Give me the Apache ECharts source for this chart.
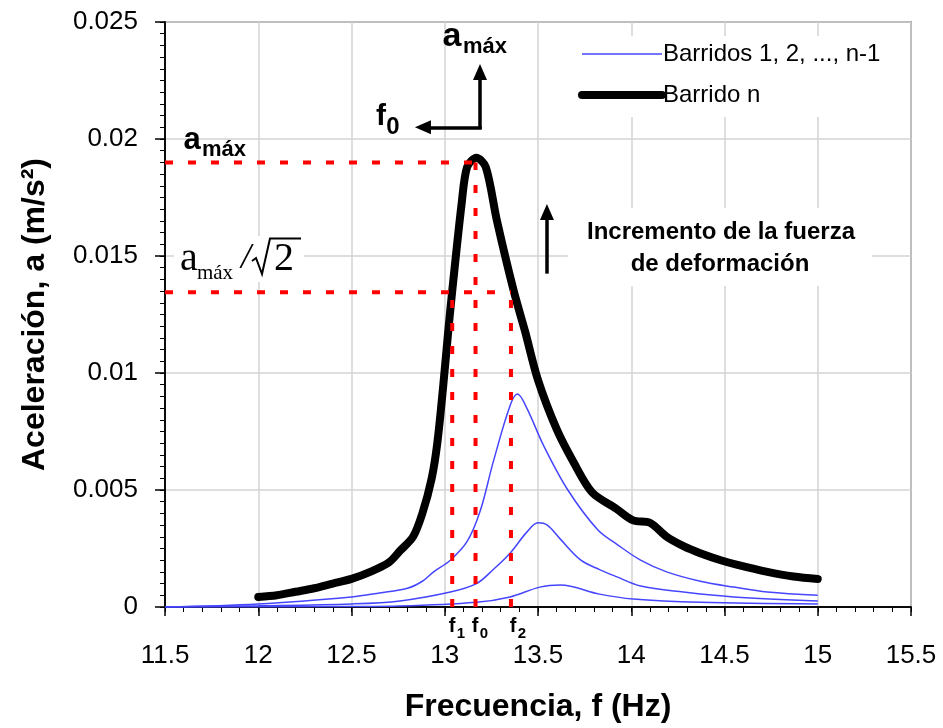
<!DOCTYPE html>
<html>
<head>
<meta charset="utf-8">
<script src="https://cdn.jsdelivr.net/npm/echarts@6/dist/echarts.min.js"></script>
<style>
  html, body { margin: 0; padding: 0; background: #fff; }
  #chart { width: 943px; height: 728px; }
</style>
</head>
<body>
<div id="chart"></div>
<script>
// Barrido n (curva gruesa negra)
const fN = [12.0, 12.1, 12.2, 12.3, 12.4, 12.5, 12.6, 12.7, 12.76, 12.83, 12.88, 12.93, 12.96, 12.99,
            13.02, 13.04, 13.09, 13.12, 13.17, 13.22, 13.28, 13.37, 13.43, 13.5, 13.6, 13.69, 13.79,
            13.92, 14.01, 14.1, 14.19, 14.28, 14.37, 14.48, 14.57, 14.73, 14.87, 15.0];
const aN = [0.00043, 0.0005, 0.00065, 0.0008, 0.001, 0.0012, 0.0015, 0.0019, 0.0024, 0.003, 0.004, 0.0055, 0.007, 0.0093,
            0.0119, 0.0135, 0.0172, 0.0188, 0.0192, 0.0188, 0.0165, 0.0135, 0.0118, 0.0097, 0.0076, 0.0062, 0.0049,
            0.0042, 0.0037, 0.0036, 0.003, 0.0026, 0.0023, 0.002, 0.0018, 0.0015, 0.0013, 0.0012];

// Barridos 1, 2, ..., n-1 (curvas azules)
const f1b = [11.5, 12.0, 12.5, 12.65, 12.8, 12.88, 12.94, 13.03, 13.12, 13.19, 13.26, 13.35, 13.39, 13.44, 13.53, 13.66,
             13.82, 13.92, 14.05, 14.19, 14.37, 14.55, 14.73, 15.0];
const a1b = [0, 0.00013, 0.00043, 0.0006, 0.0008, 0.0011, 0.0015, 0.002, 0.0028, 0.0041, 0.0062, 0.0086, 0.0091, 0.0085, 0.0069, 0.005,
             0.0033, 0.0027, 0.002, 0.0015, 0.0011, 0.00085, 0.00064, 0.0005];
const f2b = [11.5, 12.0, 12.5, 12.76, 13.03, 13.17, 13.26, 13.35, 13.44, 13.5, 13.55, 13.62, 13.73, 13.83, 13.92,
             14.05, 14.28, 14.55, 15.0];
const a2b = [0, 0.00005, 0.00013, 0.00026, 0.00064, 0.001, 0.0016, 0.0023, 0.0032, 0.0036, 0.0035, 0.0029, 0.002, 0.0016, 0.0013,
             0.0009, 0.00064, 0.00043, 0.00026];
const f3b = [11.5, 12.5, 12.76, 13.17, 13.35, 13.51, 13.62, 13.83, 14.01, 14.37, 15.0];
const a3b = [0, 0.00002, 0.00004, 0.0002, 0.00043, 0.00085, 0.00094, 0.00055, 0.00034, 0.0002, 0.00013];

// frecuencias y aceleraciones de referencia (lineas rojas)
const fRef = { f1: 13.04, f0: 13.165, f2: 13.355 };
const aMax = 0.019;
const aMaxR2 = 0.01345;

// flechas de anotacion [x1, y1, x2, y2]
const arrows = [
  [13.189, 0.0205, 13.189, 0.02286],
  [13.189, 0.0205, 12.883, 0.0205],
  [13.548, 0.01432, 13.548, 0.01688]
];

const xTicks = { min: 11.5, max: 15.5, step: 0.5, minorStep: 0.1 };
const yTicks = { min: 0, max: 0.025, step: 0.005, minorStep: 0.0005 };

const BLUE_NAME = 'Barridos 1, 2, ..., n-1';
const BLACK_NAME = 'Barrido n';
const FONT = 'Liberation Sans, Arial, sans-serif';
const SERIF = 'Liberation Serif, Times New Roman, serif';

function zip(xs, ys) { return xs.map((x, i) => [x, ys[i]]); }

const blue = '#4646ff';
function blueSeries(xs, ys) {
  return {
    name: BLUE_NAME, type: 'line', data: zip(xs, ys), smooth: 0.35,
    symbol: 'none', lineStyle: { color: blue, width: 1.5 }, itemStyle: { color: blue }, z: 3
  };
}
function redDash(data) {
  return {
    type: 'line', data: data, symbol: 'none', silent: true, z: 6,
    lineStyle: { color: '#ff0000', width: 4, type: [8, 15] }
  };
}

let chart = echarts.init(document.getElementById('chart'));
let option = {
  animation: false,
  grid: { left: 165, right: 32, top: 22, bottom: 120, show: true, borderColor: '#555', borderWidth: 1.5 },
  legend: {
    data: [BLUE_NAME, BLACK_NAME],
    orient: 'vertical', left: 566, top: 36,
    itemWidth: 80, itemHeight: 14, itemGap: 17,
    backgroundColor: '#fff', padding: [6, 16, 10, 12],
    textStyle: { fontFamily: FONT, fontSize: 24, color: '#000', padding: [0, 0, 0, -4] },
    itemStyle: { opacity: 0 },
    lineStyle: { width: 'inherit' },
    selectedMode: false
  },
  xAxis: [
    {
      type: 'value', min: xTicks.min, max: xTicks.max, interval: xTicks.step, position: 'bottom',
      name: 'Frecuencia, f (Hz)', nameLocation: 'middle', nameGap: 84,
      nameTextStyle: { fontFamily: FONT, fontSize: 32, fontWeight: 'bold', color: '#000' },
      axisLine: { show: true, onZero: false, lineStyle: { color: '#000', width: 1.5 } },
      axisTick: { show: true, inside: false, length: 9, lineStyle: { color: '#000', width: 1.5 } },
      axisLabel: { fontFamily: FONT, fontSize: 26, color: '#000', margin: 36 },
      splitLine: { show: true, lineStyle: { color: '#d3d3d3', width: 1.5 } }
    },
    {
      // marcas secundarias cada 0.1 Hz
      type: 'value', min: xTicks.min, max: xTicks.max, interval: xTicks.minorStep, position: 'bottom',
      axisLine: { show: true, onZero: false, lineStyle: { color: '#000', width: 1.5 } },
      axisTick: { show: true, inside: false, length: 5, lineStyle: { color: '#000', width: 1 } },
      axisLabel: { show: false }, splitLine: { show: false }
    }
  ],
  yAxis: [
    {
      type: 'value', min: yTicks.min, max: yTicks.max, interval: yTicks.step, position: 'left',
      name: 'Aceleración, a (m/s²)', nameLocation: 'middle', nameGap: 114,
      nameTextStyle: { fontFamily: FONT, fontSize: 32, fontWeight: 'bold', color: '#000' },
      axisLine: { show: true, onZero: false, lineStyle: { color: '#000', width: 1.5 } },
      axisTick: { show: true, inside: false, length: 10, lineStyle: { color: '#000', width: 1.5 } },
      axisLabel: { fontFamily: FONT, fontSize: 26, color: '#000', margin: 27 },
      splitLine: { show: true, lineStyle: { color: '#d3d3d3', width: 1.5 } }
    },
    {
      // marcas secundarias cada 0.0005
      type: 'value', min: yTicks.min, max: yTicks.max, interval: yTicks.minorStep, position: 'left',
      axisLine: { show: true, onZero: false, lineStyle: { color: '#000', width: 1.5 } },
      axisTick: { show: true, inside: false, length: 5, lineStyle: { color: '#000', width: 1 } },
      axisLabel: { show: false }, splitLine: { show: false }
    }
  ],
  series: [
    blueSeries(f1b, a1b),
    blueSeries(f2b, a2b),
    blueSeries(f3b, a3b),
    {
      name: BLACK_NAME, type: 'line', data: zip(fN, aN), smooth: 0.3, symbol: 'none', z: 4,
      lineStyle: { color: '#000', width: 8, cap: 'round', join: 'round' }, itemStyle: { color: '#000' }
    },
    redDash([[xTicks.min, aMax], [fRef.f0, aMax]]),
    redDash([[fRef.f0, 0], [fRef.f0, aMax]]),
    redDash([[xTicks.min, aMaxR2], [fRef.f2, aMaxR2]]),
    redDash([[fRef.f1, 0], [fRef.f1, aMaxR2]]),
    redDash([[fRef.f2, 0], [fRef.f2, aMaxR2]]),
    {
      type: 'line', data: [], silent: true, z: 7,
      markLine: {
        silent: true, animation: false,
        symbol: ['none', 'triangle'], symbolSize: [14, 16],
        label: { show: false },
        lineStyle: { color: '#000', width: 3.5, type: 'solid', cap: 'square' },
        emphasis: { disabled: true },
        data: arrows.map(a => [{ coord: [a[0], a[1]] }, { coord: [a[2], a[3]] }])
      }
    }
  ]
};
chart.setOption(option);

// anotaciones de texto
function txt(s, x, y, font) {
  return {
    type: 'text', z: 100, silent: true,
    style: { text: s, x: x, y: y, font: font, fill: '#000', align: 'center', verticalAlign: 'middle' }
  };
}
function whiteBox(x, y, w, h) {
  return { type: 'rect', z: 90, silent: true, shape: { x: x, y: y, width: w, height: h }, style: { fill: '#fff' } };
}
const B = 'bold ';
chart.setOption({
  graphic: [
    whiteBox(174, 128, 74, 8),
    whiteBox(174, 236, 130, 46),
    whiteBox(568, 208, 304, 78),
    // a_max arriba
    txt('a', 452, 37, B + '34px ' + FONT),
    txt('máx', 485, 47, B + '22px ' + FONT),
    // f0 de la flecha
    txt('f', 381, 117, B + '30px ' + FONT),
    txt('0', 393, 127, B + '24px ' + FONT),
    // a_max izquierda
    txt('a', 192, 140, B + '31px ' + FONT),
    txt('máx', 224, 150, B + '22px ' + FONT),
    // a_max / raiz 2
    txt('a', 189, 259, '40px ' + SERIF),
    txt('máx', 215, 273, '21px ' + SERIF),
    txt('/', 246, 259, 'italic 36px ' + SERIF),
    txt('2', 284, 259, '40px ' + SERIF),
    { type: 'polyline', z: 100, silent: true,
      shape: { points: [[252, 261], [256, 258], [262, 274], [270, 238.5], [301, 238.5]] },
      style: { stroke: '#000', lineWidth: 2, fill: null } },
    // incremento
    txt('Incremento de la fuerza', 721, 232, B + '24px ' + FONT),
    txt('de deformación', 720, 264, B + '24px ' + FONT),
    // f1 f0 f2 bajo el eje
    txt('f', 452, 626, B + '20px ' + FONT),
    txt('1', 461, 634, B + '15px ' + FONT),
    txt('f', 475, 626, B + '20px ' + FONT),
    txt('0', 484, 634, B + '15px ' + FONT),
    txt('f', 513, 626, B + '20px ' + FONT),
    txt('2', 522, 634, B + '15px ' + FONT)
  ]
});
</script>
</body>
</html>
